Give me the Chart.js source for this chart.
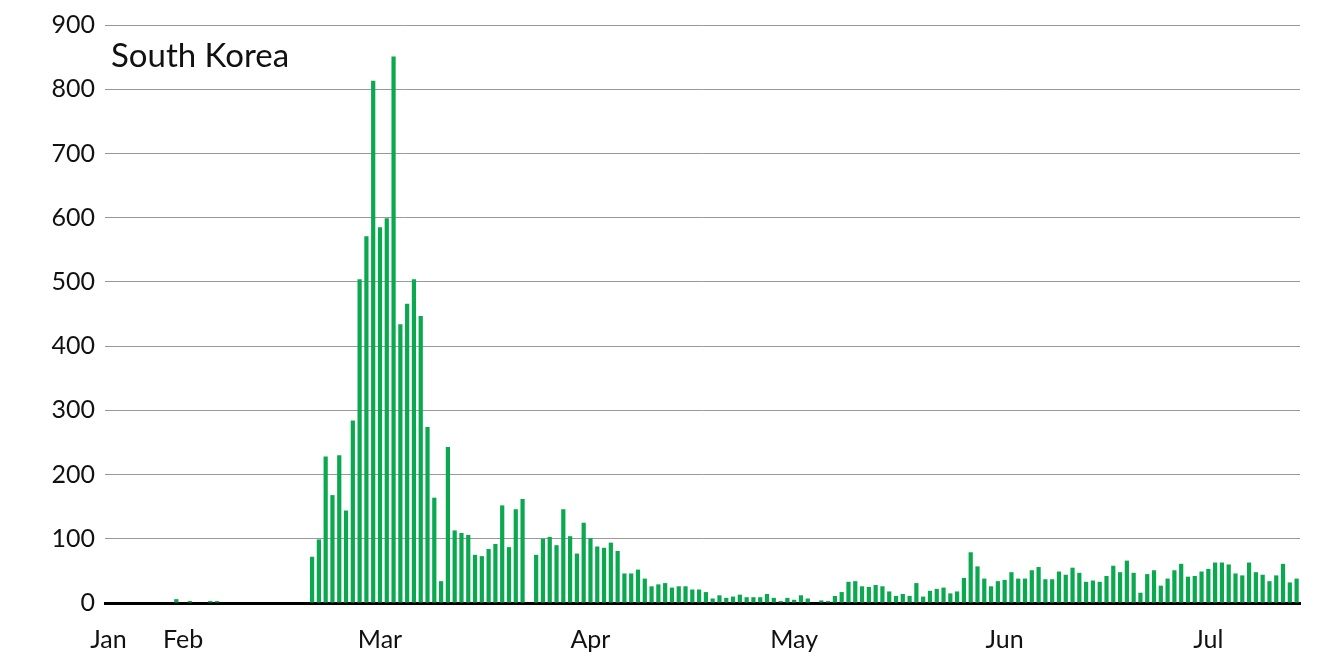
<!DOCTYPE html>
<html>
<head>
<meta charset="utf-8">
<script src="https://cdn.jsdelivr.net/npm/chart.js@4/dist/chart.umd.min.js"></script>
<style>
  body { margin: 0; background: #fff; }
  #wrap { position: relative; width: 1320px; height: 660px; }
  #title { position: absolute; left: 111px; top: 34px; font: 33px Lato, "Open Sans", sans-serif; color: #111; }
</style>
</head>
<body>
<div id="wrap">
  <canvas id="chart" width="1320" height="660"></canvas>
  <div id="title">South Korea</div>
</div>
<script>
// --- Daily new cases, Jan 21 .. Jul 14 ---
const startDate = "2020-01-21";
const dailyCases = [
  0,0,0,0,0,0,0,0,0,0, 6,0,3,0,0,3,3, 0,0,0,0,0,0,0,0,0,0,0,0,0,
  72,99,228,168,230,144,284,504,571,813,585,599,851,434,466,504,447,
  274,164,34,243,113,109,106,75,73,84,92,152,87,146,162,
  0,
  75,100,103,90,146,104,77,125,101,88,86,94,81,46,46,52,38,26,29,31,
  24,26,26,21,21,17,7,12,8,10,13,9,9,9,14,8,3,8,5,12,7,0,4,3,11,17,33,34,26,25,
  28,26,18,11,14,11,31,10,19,22,24,15,18,39,79,57,38,26,34,
  36,48,38,38,51,56,37,37,49,44,55,47,33,35,33,42,58,48,66,47,
  16,45,51,27,38,51,61,41,42,49,53,63,63,60,46,43,63,48,44,34,43,61,32,38
];
// month labels keyed by bar index
const monthTickIndex = [0, 11, 40, 71, 101, 132, 162];
const monthTickLabels = ["Jan", "Feb", "Mar", "Apr", "May", "Jun", "Jul"];
const yTicks = [0, 100, 200, 300, 400, 500, 600, 700, 800, 900];

const dayLabels = dailyCases.map((_, i) => {
  const d = new Date(startDate + "T00:00:00Z");
  d.setUTCDate(d.getUTCDate() + i);
  return d.toISOString().slice(0, 10);
});

const font = { family: "Lato, 'Open Sans', sans-serif", size: 25 };

new Chart(document.getElementById("chart"), {
  type: "bar",
  data: {
    labels: dayLabels,
    datasets: [{
      data: dailyCases,
      backgroundColor: "#0aa84f",
      barPercentage: 0.62,
      categoryPercentage: 1
    }]
  },
  options: {
    responsive: false,
    animation: false,
    layout: { padding: { top: 22, right: 20, left: 0, bottom: 0 } },
    plugins: { legend: { display: false }, tooltip: { enabled: false } },
    scales: {
      x: {
        grid: { display: false },
        border: { color: "#000", width: 3 },
        afterFit: s => { s.height = 57; },
        ticks: {
          autoSkip: false, maxRotation: 0, color: "#111", font, padding: 14,
          callback: (v, i) => {
            const k = monthTickIndex.indexOf(i);
            return k >= 0 ? monthTickLabels[k] : null;
          }
        }
      },
      y: {
        min: 0, max: 900,
        afterFit: s => { s.width = 105; },
        afterBuildTicks: s => { s.ticks = yTicks.map(v => ({ value: v })); },
        border: { display: false },
        grid: { color: "#999", lineWidth: 1, drawTicks: false },
        ticks: { color: "#111", font, padding: 10 }
      }
    }
  }
});
</script>
</body>
</html>
